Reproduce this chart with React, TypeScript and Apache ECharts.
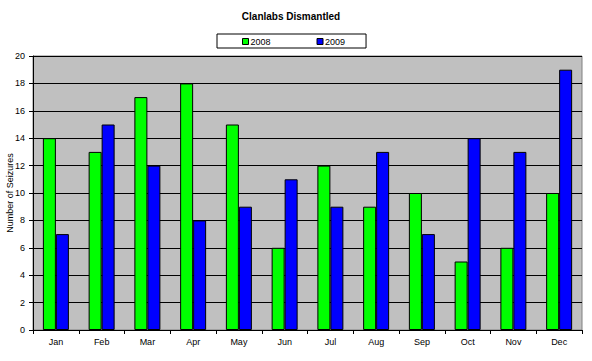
import React, { useEffect, useRef } from "react";
import * as echarts from "echarts";

const months = ["Jan", "Feb", "Mar", "Apr", "May", "Jun", "Jul", "Aug", "Sep", "Oct", "Nov", "Dec"];
const values2008 = [14, 13, 17, 18, 15, 6, 12, 9, 10, 5, 6, 10];
const values2009 = [7, 15, 12, 8, 9, 11, 9, 13, 7, 14, 13, 19];
const yTicks = { min: 0, max: 20, interval: 2 };

export default function App() {
  const ref = useRef<HTMLDivElement>(null);
  useEffect(() => {
    if (!ref.current) return;
    const chart = echarts.init(ref.current, null, { renderer: "svg" });
    const font = "Liberation Sans, Arial, sans-serif";
    chart.setOption({
      animation: false,
      backgroundColor: "#ffffff",
      textStyle: { fontFamily: font },
      title: {
        text: "Clanlabs Dismantled",
        left: 291,
        top: 11,
        padding: 0,
        textAlign: "center",
        textStyle: { fontSize: 10, fontWeight: "bold", color: "#000", fontFamily: font },
      },
      legend: {
        left: 217,
        top: 34,
        width: 149,
        borderColor: "#000",
        borderWidth: 1,
        padding: [3, 21, 2, 25],
        itemWidth: 6,
        itemHeight: 6,
        itemGap: 46,
        icon: "rect",
        textStyle: { fontSize: 9, lineHeight: 9, color: "#000", fontFamily: font, padding: [0, 0, 0, -3] },
        data: [
          { name: "2008", itemStyle: { borderColor: "#000", borderWidth: 1 } },
          { name: "2009", itemStyle: { borderColor: "#000", borderWidth: 1 } },
        ],
      },
      grid: {
        left: 33,
        right: 10,
        top: 56,
        bottom: 31,
        containLabel: false,
        outerBoundsMode: "none",
        show: true,
        backgroundColor: "#C0C0C0",
        borderColor: "#808080",
        borderWidth: 1,
      },
      xAxis: {
        type: "category",
        data: months,
        axisLine: { lineStyle: { color: "#000", width: 1 } },
        axisTick: { show: true, inside: false, length: 4, lineStyle: { color: "#000" } },
        axisLabel: { fontSize: 9, color: "#000", margin: 7, fontFamily: font },
        splitLine: { show: false },
      },
      yAxis: {
        type: "value",
        min: yTicks.min,
        max: yTicks.max,
        interval: yTicks.interval,
        name: "Number of Seizures",
        nameLocation: "middle",
        nameGap: 19,
        nameMoveOverlap: false,
        nameRotate: 90,
        nameTextStyle: { fontSize: 9, color: "#000", fontFamily: font },
        axisLine: { show: true, lineStyle: { color: "#000", width: 1 } },
        axisTick: { show: true, inside: false, length: 4, lineStyle: { color: "#000" } },
        axisLabel: { fontSize: 9, color: "#000", margin: 8, fontFamily: font },
        splitLine: { show: true, lineStyle: { color: "#000", width: 1 } },
      },
      series: [
        {
          name: "2008",
          type: "bar",
          data: values2008,
          barGap: "0%",
          barWidth: 13,
          itemStyle: { color: "#00FF00", borderColor: "#000", borderWidth: 1 },
        },
        {
          name: "2009",
          type: "bar",
          data: values2009,
          barGap: "0%",
          barWidth: 13,
          itemStyle: { color: "#0000FF", borderColor: "#000", borderWidth: 1 },
        },
      ],
    });
    return () => chart.dispose();
  }, []);
  return <div ref={ref} style={{ width: 592, height: 361, position: "absolute", left: 0, top: 0 }} />;
}
